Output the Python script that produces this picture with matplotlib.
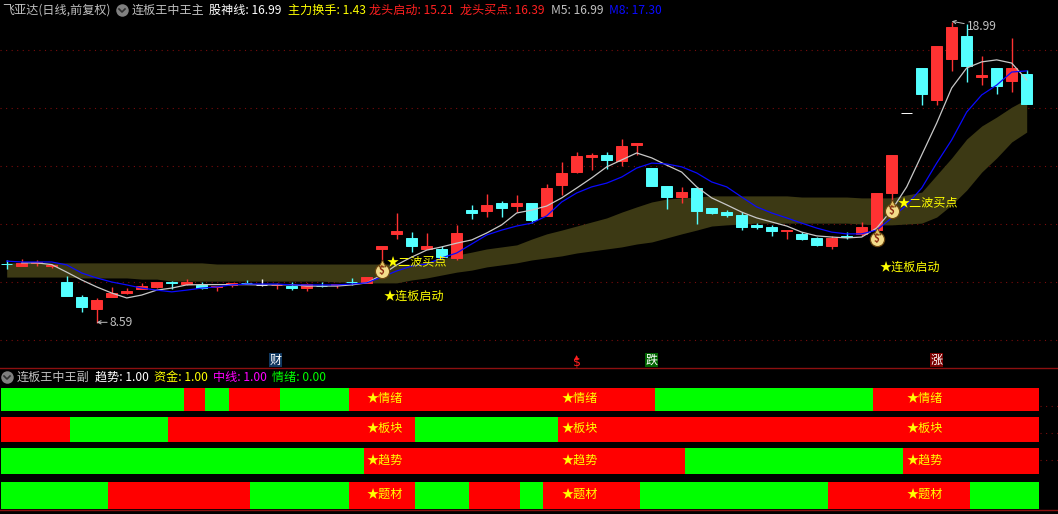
import numpy as np
import matplotlib
matplotlib.use('Agg')
import matplotlib.pyplot as plt
from matplotlib.lines import Line2D

plt.rcParams['font.family'] = ['Noto Sans CJK SC', 'DejaVu Sans']

# candles, one per trading day
opens = [10.62, 10.55, 10.64, 10.55, 10.00, 9.48, 9.07, 9.48, 9.62, 9.76,
         9.83, 10.00, 9.93, 9.90, 9.83, 9.90, 9.98, 9.90, 9.89, 9.86,
         9.79, 9.86, 9.90, 10.00, 9.97, 11.14, 11.66, 11.52, 11.14, 11.14,
         10.83, 12.48, 12.45, 12.72, 12.62, 12.72, 12.28, 13.34, 13.79, 14.31,
         14.38, 14.17, 14.72, 13.93, 13.31, 12.93, 13.24, 12.55, 12.41, 12.31,
         11.97, 11.90, 11.76, 11.66, 11.52, 11.24, 11.59, 11.66, 11.79, 13.07,
         15.83, 17.38, 16.28, 17.69, 18.48, 17.07, 17.38, 16.93, 17.17]
closes = [10.61, 10.66, 10.69, 10.59, 9.52, 9.14, 9.38, 9.62, 9.69, 9.86,
          10.00, 9.97, 10.00, 9.79, 9.86, 9.97, 9.97, 9.90, 9.90, 9.79,
          9.93, 9.85, 9.93, 9.99, 10.17, 11.24, 11.76, 11.24, 11.24, 10.86,
          11.69, 12.38, 12.66, 12.55, 12.72, 12.14, 13.24, 13.76, 14.34, 14.38,
          14.21, 14.69, 14.79, 13.31, 12.93, 13.10, 12.45, 12.38, 12.31, 11.90,
          11.90, 11.76, 11.79, 11.48, 11.28, 11.52, 11.55, 11.90, 13.07, 14.38,
          15.83, 16.48, 18.14, 18.79, 17.45, 17.14, 16.76, 17.38, 16.14]
highs = [10.76, 10.79, 10.76, 10.62, 10.21, 9.55, 9.45, 9.83, 9.79, 9.97,
         10.00, 10.03, 10.10, 10.00, 9.86, 9.97, 10.07, 10.10, 9.97, 10.00,
         9.97, 10.00, 9.93, 10.14, 10.17, 11.24, 12.38, 11.72, 11.69, 11.24,
         11.97, 12.66, 13.03, 12.79, 13.00, 12.72, 13.38, 14.14, 14.48, 14.45,
         14.48, 14.93, 14.79, 13.93, 13.31, 13.28, 13.24, 12.55, 12.48, 12.41,
         12.03, 11.97, 11.79, 11.72, 11.55, 11.59, 11.72, 12.07, 13.07, 14.38,
         15.83, 17.38, 18.14, 18.97, 18.90, 17.79, 17.38, 18.41, 17.31]
lows = [10.45, 10.55, 10.55, 10.48, 9.52, 8.97, 8.59, 9.48, 9.59, 9.76,
        9.79, 9.76, 9.90, 9.76, 9.69, 9.83, 9.93, 9.86, 9.76, 9.72,
        9.69, 9.83, 9.79, 9.90, 9.97, 10.69, 11.48, 11.03, 11.14, 10.83,
        10.76, 12.17, 12.24, 12.24, 12.41, 12.03, 12.28, 13.00, 13.76, 13.86,
        13.90, 14.00, 14.38, 13.31, 12.52, 12.72, 12.00, 12.34, 12.24, 11.79,
        11.83, 11.59, 11.48, 11.45, 11.24, 11.14, 11.48, 11.59, 11.79, 12.72,
        15.83, 16.10, 16.10, 17.28, 16.90, 16.79, 16.48, 16.55, 16.14]

# moving averages
m5 = [np.nan, 10.66, 10.66, 10.60, 10.34, 10.07, 9.83, 9.62, 9.45, 9.55,
      9.72, 9.79, 9.90, 9.91, 9.91, 9.91, 9.91, 9.90, 9.90, 9.91,
      9.86, 9.86, 9.86, 9.90, 9.97, 10.24, 10.59, 10.86, 11.10, 11.21,
      11.34, 11.45, 11.69, 11.97, 12.38, 12.48, 12.62, 12.90, 13.24, 13.59,
      13.97, 14.21, 14.45, 14.28, 14.03, 13.79, 13.28, 12.90, 12.66, 12.41,
      12.21, 12.07, 11.93, 11.72, 11.59, 11.55, 11.52, 11.55, 11.86, 12.48,
      13.28, 14.38, 15.48, 16.69, 17.38, 17.59, 17.66, 17.55, 16.97]
m8 = [10.72, 10.69, 10.69, 10.69, 10.59, 10.31, 10.14, 10.00, 9.90, 9.79,
      9.72, 9.66, 9.72, 9.79, 9.83, 9.90, 9.93, 9.93, 9.93, 9.90,
      9.90, 9.90, 9.90, 9.93, 9.97, 10.17, 10.38, 10.55, 10.62, 10.83,
      11.00, 11.31, 11.62, 11.79, 11.93, 12.03, 12.28, 12.76, 13.07, 13.28,
      13.41, 13.62, 13.93, 14.10, 14.07, 13.97, 13.76, 13.45, 13.28, 12.93,
      12.59, 12.38, 12.21, 12.03, 11.86, 11.72, 11.66, 11.66, 11.79, 12.21,
      12.66, 13.24, 14.10, 14.90, 15.86, 16.45, 16.79, 17.24, 17.28]

# olive band
band_top = [10.66] * 14 + [10.62] * 14 + [
    10.69, 10.79, 10.93, 11.03, 11.14, 11.21, 11.28, 11.48, 11.66, 11.79,
    11.93, 12.07, 12.21, 12.41, 12.59, 12.76, 12.86, 12.90, 12.93,
    12.97, 12.97, 12.97, 12.97, 12.97, 12.97, 12.93, 12.93, 12.93, 12.93,
    12.90, 12.90, 12.90, 13.00, 13.10, 13.69, 14.28, 14.93, 15.38, 15.69,
    16.03, 16.31]
band_bot = [10.17] * 5 + [10.14] * 4 + [10.10] * 2 + [10.03] * 11 + [10.00] * 2 + [9.97] * 3 + [
    10.07, 10.14, 10.24, 10.34, 10.41, 10.52, 10.59, 10.66, 10.76, 10.83,
    10.90, 11.00, 11.07, 11.14, 11.21, 11.31, 11.38, 11.52, 11.66, 11.79,
    11.93, 11.97, 12.00, 12.03, 12.03, 12.03, 12.03, 12.03, 12.03, 12.03,
    12.00, 11.97, 11.97, 12.00, 12.03, 12.24, 12.66, 13.17, 13.79, 14.28,
    14.83, 15.17]

grid_prices = [8, 10, 12, 14, 16, 18]

# lower panel, 1 = red, 0 = green, one state per day
row_names = ['情绪', '板块', '趋势', '题材']
row_qingxu = [0]*12 + [1]*2 + [0] + [1]*4 + [0]*4 + [1]*21 + [0]*14 + [1]*11
row_bankuai = [1]*5 + [0]*6 + [1]*17 + [0]*9 + [1]*32
row_qushi = [0]*24 + [1]*22 + [0]*14 + [1]*9
row_ticai = [0]*7 + [1]*10 + [0]*6 + [1]*5 + [0]*3 + [1]*4 + [0] + [1]*7 + [0]*12 + [1]*10 + [0]*4
rows = [row_qingxu, row_bankuai, row_qushi, row_ticai]
label_days = [24, 37, 60]

W, H = 1058, 514
RED = '#ff3232'
CYAN = '#54ffff'
YELLOW = '#ffff00'
GRID = '#7a0c0c'
FS = 8.7


def fx(x):
    return x / W


def fy(y):
    return 1 - y / H


def day(px):
    return (px - 6.7) / 15


def label(x, y, s, color, **kw):
    kw.setdefault('fontsize', FS)
    fig.text(fx(x), fy(y), s, color=color, va='center', ha='left', **kw)


def button(x, y):
    fig.add_artist(Line2D([fx(x)], [fy(y)], marker='o', ms=9, color='#808080', mew=0,
                          transform=fig.transFigure))
    fig.add_artist(Line2D([fx(x - 3), fx(x), fx(x + 3)], [fy(y - 1), fy(y + 2), fy(y - 1)],
                          color='#303030', lw=1.2, transform=fig.transFigure))


def bag(ax, d, price):
    ax.scatter([d], [price - 0.06], s=105, color='#f3dc8a', edgecolor='#6b4510', linewidth=0.9, zorder=7)
    ax.scatter([d], [price + 0.22], s=24, marker='^', color='#e0c060', edgecolor='#6b4510', linewidth=0.6, zorder=7)
    ax.text(d, price - 0.06, '$', color='#8c2a10', fontsize=7, ha='center', va='center', zorder=8,
            fontweight='bold')


fig = plt.figure(figsize=(W / 100, H / 100), dpi=100, facecolor='black')
ax = fig.add_axes([0, 1 - 368 / H, 1, 368 / H], facecolor='black')
ax2 = fig.add_axes([0, 0, 1, 146 / H], facecolor='black')
for a in (ax, ax2):
    a.set_xlim(day(0), day(W))
    a.axis('off')
ax.set_ylim(10 - (368 - 282) / 29, 10 + 282 / 29)
ax2.set_ylim(514, 368)

days = np.arange(len(opens))
for p in grid_prices:
    ax.axhline(p, color=GRID, lw=0.8, dashes=(1, 4), zorder=0)

ax.fill_between(days, band_bot, band_top, color='#3c3914', lw=0, zorder=1)

o = np.array(opens)
c = np.array(closes)
colors = [RED if c[i] > o[i] else (CYAN if c[i] < o[i] else 'white') for i in days]
ax.vlines(days, lows, highs, colors=colors, lw=1.0, zorder=2)
ax.bar(days, c - o, bottom=o, width=10.6 / 15, color=colors, edgecolor=colors, lw=0.7, zorder=3)

ax.plot(days, m5, color='#c8c8c8', lw=0.9, zorder=4)
ax.plot(days, m8, color='#0a0aff', lw=0.9, zorder=5)

bag(ax, 25, 10.45)
bag(ax, 58, 11.55)
bag(ax, 59, 12.52)

ax.text(25.35, 10.69, '★二波买点', color=YELLOW, fontsize=FS, va='center', zorder=9)
ax.text(59.4, 12.72, '★二波买点', color=YELLOW, fontsize=FS, va='center', zorder=9)
ax.text(25.15, 9.52, '★连板启动', color=YELLOW, fontsize=FS, va='center', zorder=9)
ax.text(58.2, 10.52, '★连板启动', color=YELLOW, fontsize=FS, va='center', zorder=9)

ax.annotate('8.59', xy=(6, 8.61), xytext=(9.5, 0), textcoords='offset points', color='#c0c0c0', fontsize=FS,
            va='center', annotation_clip=False, zorder=9,
            arrowprops=dict(arrowstyle='->', color='#c0c0c0', lw=0.7, shrinkA=0, shrinkB=0, mutation_scale=6))
ax.annotate('18.99', xy=(63, 18.99), xytext=(11, -4), textcoords='offset points', color='#c0c0c0', fontsize=FS,
            va='center', annotation_clip=False, zorder=9,
            arrowprops=dict(arrowstyle='->', color='#c0c0c0', lw=0.7, shrinkA=0, shrinkB=0, mutation_scale=6))

# lower panel bars, green goes over red
row_tops = [388, 417, 448, 482]
row_heights = [23, 25, 26, 27]
for y in [406, 433, 460]:
    ax2.hlines(y, day(1040), day(W), color=GRID, lw=0.8, linestyles=(0, (1, 4)))
for k, row in enumerate(rows):
    state = np.array(row)
    ax2.bar(days[state == 1], row_heights[k], bottom=row_tops[k], width=23.6 / 15, color='#ff0000', lw=0, zorder=2)
    ax2.bar(days[state == 0], row_heights[k], bottom=row_tops[k], width=23.6 / 15, color='#00ff00', lw=0, zorder=3)
    for d in label_days:
        ax2.text(d, row_tops[k] + row_heights[k] / 2 - 1, '★' + row_names[k], color=YELLOW, fontsize=FS,
                 va='center', ha='left', zorder=4)
ax2.axvspan(day(0), day(1), color='black', lw=0, zorder=5)
ax2.axhline(368.2, color='#8c1010', lw=1.0, zorder=6, clip_on=False)
ax2.axhline(510.2, color='#8c1010', lw=1.0, zorder=6)

# header of main panel
label(2, 10, '飞亚达(日线,前复权)', '#c0c0c0')
button(122, 10)
label(132, 10, '连板王中王主', '#c0c0c0')
label(209, 10, '股神线: 16.99', 'white')
label(288, 10, '主力换手: 1.43', YELLOW)
label(369, 10, '龙头启动: 15.21', '#ff2020')
label(460, 10, '龙头买点: 16.39', '#ff2020')
label(551, 10, 'M5: 16.99', '#c0c0c0')
label(609, 10, 'M8: 17.30', '#0a0aff')

# header of lower panel
button(7, 377)
label(17, 377, '连板王中王副', '#c0c0c0')
label(95, 377, '趋势: 1.00', 'white')
label(154, 377, '资金: 1.00', YELLOW)
label(213, 377, '中线: 1.00', '#ff00ff')
label(272, 377, '情绪: 0.00', '#00ff00')

# event icons
label(269.5, 360, '财', 'white', bbox=dict(facecolor='#103860', edgecolor='none', pad=0.6))
label(645.5, 360, '跌', 'white', bbox=dict(facecolor='#006400', edgecolor='none', pad=0.6))
label(930.5, 360, '涨', 'white', bbox=dict(facecolor='#7a0000', edgecolor='none', pad=0.6))
label(573, 362.5, '$', '#ff2020', fontsize=9, family='DejaVu Sans')
fig.add_artist(Line2D([fx(575.7)], [fy(357)], marker='^', ms=3.5, color='#ff2020', mew=0,
                      transform=fig.transFigure))

fig.savefig('out.png', dpi=100, facecolor='black')
